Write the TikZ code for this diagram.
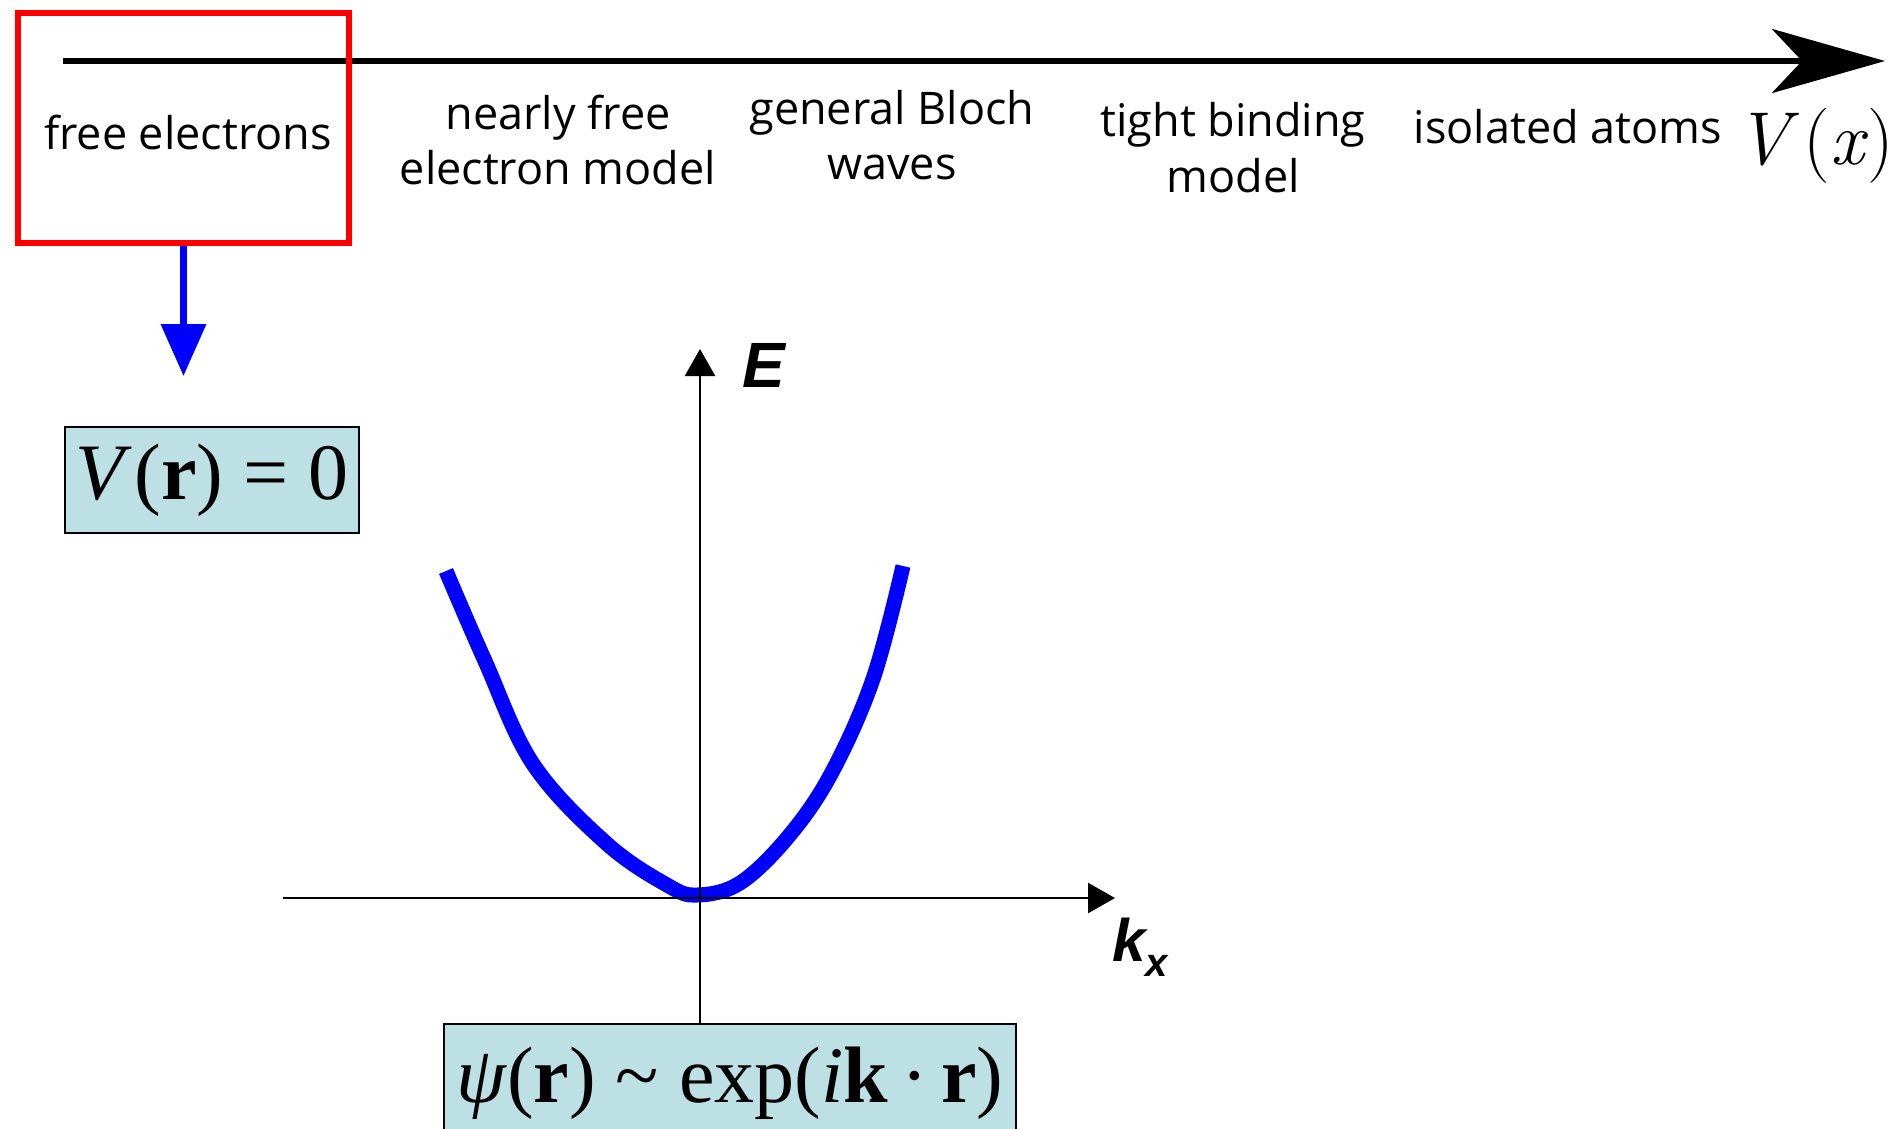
\documentclass[tikz,border=0pt]{standalone}
\usepackage{fontspec}
\newfontfamily\labfont{Open Sans}
\newfontfamily\serfont{Liberation Serif}
\newfontfamily\arialfont{Liberation Sans}
\usetikzlibrary{arrows.meta}
\definecolor{boxfill}{RGB}{188,224,227}
\definecolor{pureblue}{RGB}{0,0,255}
\definecolor{purered}{RGB}{255,0,0}
\begin{document}
\begin{tikzpicture}[x=1pt,y=-1pt,
  lab/.style={font=\labfont\fontsize{45}{55}\selectfont, anchor=base, inner sep=0pt},
  formbox/.style={draw=black, line width=1.5pt, fill=boxfill, inner sep=0pt,
    font=\serfont\fontsize{80}{90}\selectfont},
  axisline/.style={line width=2.5pt, -{Triangle[length=27pt,width=30pt]}},
  axlabel/.style={inner sep=0pt, font=\arialfont\bfseries\itshape\fontsize{64}{64}\selectfont}
]
\useasboundingbox (0,0) rectangle (1901,1128);
\clip (0,0) rectangle (1901,1128);

% top axis
\coordinate (vstart) at (63,61);
\coordinate (vend) at (1885,61);
\draw[line width=6pt, -{Stealth[length=113pt,width=64pt,inset=30pt]}] (vstart) -- (vend);

% labels
\node[lab] (t1) at (188,149) {free electrons};
\node[lab] (t2a) at (558,129) {nearly free};
\node[lab] (t2b) at (558,184) {electron model};
\node[lab] (t3a) at (892,124) {general Bloch};
\node[lab] (t3b) at (892,179) {waves};
\node[lab] (t4a) at (1233,136) {tight binding};
\node[lab] (t4b) at (1233,192) {model};
\node[lab] (t5) at (1568,143) {isolated atoms};
\node[anchor=base, inner sep=0pt, font=\fontsize{75}{75}\selectfont] (vx) at (1815,164) {\textit{V}\kern4pt(\textit{x})};

% red highlight box
\node[draw=purered, line width=6.5pt, minimum width=331pt, minimum height=230pt, inner sep=0pt] (redbox) at (183.5,128) {};

% blue arrow
\coordinate (btip) at (183.5,376);
\draw[line width=7pt, pureblue, -{Triangle[length=52pt,width=44pt]}] (redbox.south) -- (btip);

% formula boxes
\node[formbox, minimum width=294pt, minimum height=106pt] (vr) at (212,480)
  {\textit{V}\kern3pt(\textbf{r}) = 0};
\node[formbox, minimum width=572pt, minimum height=118pt] (psi) at (730,1083)
  {\textit{ψ}(\textbf{r}) \textasciitilde{} exp(\textit{i}\textbf{k}\,·\,\textbf{r})};

% dispersion curve
\draw[pureblue, line width=15pt, line join=round] plot[smooth, tension=0.6] coordinates
  {(446,571) (485,661) (533,764) (606,843) (667,885) (697,895) (740,883) (788,837) (831,774) (873,679) (903,566)};

% axes
\coordinate (etip) at (700,349);
\draw[axisline] (etip |- psi.north) -- (etip);
\coordinate (kstart) at (283,898);
\coordinate (ktip) at (1115,898);
\draw[axisline] (kstart) -- (ktip);

\node[axlabel] (elab) at (764,365) {E};
\node[axlabel, anchor=base west, font=\arialfont\bfseries\itshape\fontsize{60}{60}\selectfont] (klab) at (1112,961)
  {k\raisebox{-15pt}{\fontsize{40}{40}\selectfont x}};
\end{tikzpicture}
\end{document}
